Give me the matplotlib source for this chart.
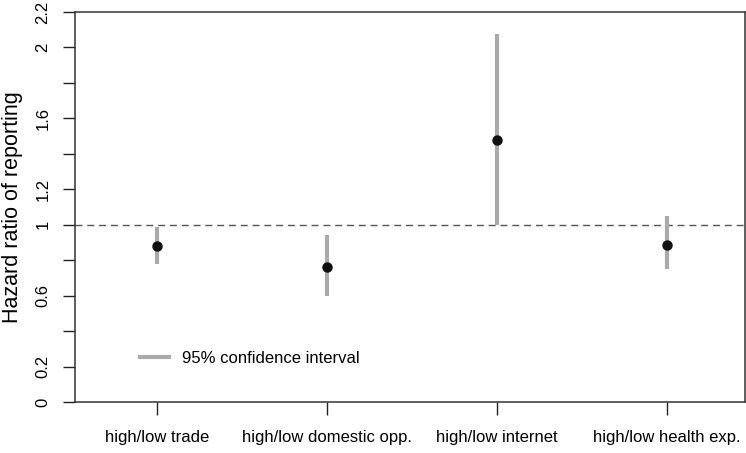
import numpy as np
import matplotlib.pyplot as plt
from matplotlib.lines import Line2D

plt.rcParams['font.family'] = ['Liberation Sans', 'DejaVu Sans']

labels = ["high/low trade", "high/low domestic opp.", "high/low internet", "high/low health exp."]
hr = [0.878, 0.76, 1.477, 0.883]
ci_low = [0.779, 0.60, 1.0, 0.75]
ci_high = [0.99, 0.944, 2.076, 1.047]

yticks = [0, 0.2, 0.4, 0.6, 0.8, 1, 1.2, 1.4, 1.6, 1.8, 2, 2.2]
ytick_labels = ["0", "0.2", "", "0.6", "", "1", "1.2", "", "1.6", "", "2", "2.2"]

pos = np.arange(1, len(labels) + 1)

fig = plt.figure(figsize=(7.46, 4.53), dpi=100)
ax = fig.add_axes([75/746, 51/453, 670/746, 390/453])

ax.axhline(1, color="#555555", lw=1, ls=(0, (5, 3.5)), zorder=1)
ax.vlines(pos, ci_low, ci_high, color="#aaaaaa", lw=3, zorder=2)
ax.plot(pos, hr, "o", color="#111111", ms=6.5, zorder=3)

ax.set_xlim(0.518, 4.459)
ax.set_ylim(0, 2.2)
ax.set_xticks(pos)
ax.set_xticklabels(labels, fontsize=12)
ax.set_yticks(yticks)
ax.set_yticklabels(ytick_labels, fontsize=12, rotation=90, va="center")
ax.tick_params(axis="y", length=8.6, width=1, pad=9, color="#222222")
ax.tick_params(axis="x", length=9.5, width=1, pad=11, color="#222222")

for s in ax.spines.values():
    s.set_color("#333333")
    s.set_linewidth(1.1)

ax.set_ylabel("Hazard ratio of reporting", fontsize=15.5)
ax.yaxis.set_label_coords(-0.078, 0.5)

handle = Line2D([], [], color="#aaaaaa", lw=3)
ax.legend([handle], ["95% confidence interval"], loc="center left",
          bbox_to_anchor=(0.097, 0.111), frameon=False, fontsize=12,
          handlelength=1.75, handletextpad=0.75, borderpad=0, borderaxespad=0)

fig.savefig("out.png", dpi=100)
